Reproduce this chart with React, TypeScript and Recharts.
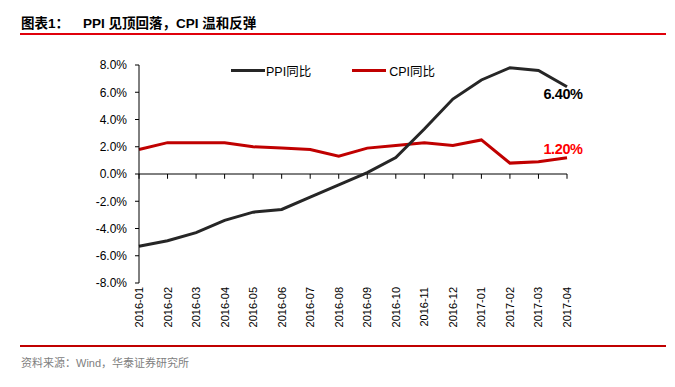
import React from 'react'
import { LineChart, Line, XAxis, YAxis, ReferenceLine, LabelList } from 'recharts'

const months = [
  '2016-01', '2016-02', '2016-03', '2016-04', '2016-05', '2016-06', '2016-07', '2016-08',
  '2016-09', '2016-10', '2016-11', '2016-12', '2017-01', '2017-02', '2017-03', '2017-04',
]
const ppi = [-5.3, -4.9, -4.3, -3.4, -2.8, -2.6, -1.7, -0.8, 0.1, 1.2, 3.3, 5.5, 6.9, 7.8, 7.6, 6.4]
const cpi = [1.8, 2.3, 2.3, 2.3, 2.0, 1.9, 1.8, 1.3, 1.9, 2.1, 2.3, 2.1, 2.5, 0.8, 0.9, 1.2]
const yTicks = [-8, -6, -4, -2, 0, 2, 4, 6, 8]

const data = months.map((m, i) => ({ month: m, ppi: ppi[i], cpi: cpi[i] }))

const FONT = '"Liberation Sans", Arial, sans-serif'
const CJK = '"Liberation Sans", "Noto Sans CJK SC", sans-serif'

const MonthTick = ({ x, y, payload }: any) => (
  <text
    transform={`translate(${x + 4},${y}) rotate(-90)`}
    textAnchor="end"
    fontSize={11}
    fontFamily={FONT}
    fill="#000"
  >
    {payload.value}
  </text>
)

// only the last point gets a value tag
const endLabel = (color: string, dy: number) => (props: any) => {
  const { x, y, index, value } = props
  if (index !== months.length - 1) return null
  return (
    <text
      x={x - 4}
      y={y + dy}
      textAnchor="middle"
      fontSize={14.5}
      fontWeight="bold"
      fontFamily={FONT}
      letterSpacing={-0.4}
      fill={color}
    >
      {value.toFixed(2)}%
    </text>
  )
}

const LegendBox = () => (
  <div style={{ position: 'absolute', left: 231, top: 61, display: 'flex', alignItems: 'center', fontFamily: CJK, fontSize: 12.5 }}>
    <span style={{ display: 'inline-block', width: 34, height: 3, background: '#262626' }} />
    <span style={{ marginLeft: 1, marginRight: 41 }}>PPI同比</span>
    <span style={{ display: 'inline-block', width: 34, height: 3, background: '#c00000' }} />
    <span style={{ marginLeft: 3 }}>CPI同比</span>
  </div>
)

export default function App() {
  return (
    <div style={{ position: 'absolute', left: 0, top: 0, width: 675, height: 387, background: '#fff' }}>
      <div style={{ position: 'absolute', left: 21, top: 12, fontFamily: CJK, fontSize: 13.5, fontWeight: 'bold', whiteSpace: 'nowrap' }}>
        <span>图表1：</span>
        <span style={{ position: 'absolute', left: 62 }}>PPI 见顶回落，CPI 温和反弹</span>
      </div>
      <div style={{ position: 'absolute', left: 20, top: 33, width: 646, height: 2, background: '#e0000b' }} />

      <LineChart
        width={675}
        height={340}
        data={data}
        margin={{ top: 65, right: 108, bottom: 0, left: 0 }}
        style={{ position: 'absolute', left: 0, top: 0 }}
      >
        <XAxis
          dataKey="month"
          height={57}
          axisLine={false}
          tickLine={false}
          tickSize={0}
          tickMargin={4}
          interval={0}
          tick={<MonthTick />}
        />
        <YAxis
          width={139}
          domain={[-8, 8]}
          ticks={yTicks}
          tickFormatter={(v: number) => `${v.toFixed(1)}%`}
          axisLine={{ stroke: '#000', strokeWidth: 1 }}
          tickLine={{ stroke: '#000' }}
          tickSize={4}
          tickMargin={8}
          tick={{ fontSize: 12, fontFamily: FONT, fill: '#000' }}
        />
        <ReferenceLine y={0} stroke="#000" strokeWidth={1} />
        {months.map((m) => (
          <ReferenceLine key={m} segment={[{ x: m, y: 0 }, { x: m, y: -0.35 }]} stroke="#000" strokeWidth={1} />
        ))}
        <Line type="linear" dataKey="cpi" stroke="#c00000" strokeWidth={3} dot={false} isAnimationActive={false}>
          <LabelList dataKey="cpi" content={endLabel('#ff0000', -4)} />
        </Line>
        <Line type="linear" dataKey="ppi" stroke="#262626" strokeWidth={3} dot={false} isAnimationActive={false}>
          <LabelList dataKey="ppi" content={endLabel('#000', 12)} />
        </Line>
      </LineChart>

      <LegendBox />

      <div style={{ position: 'absolute', left: 20, top: 345, width: 646, height: 2, background: '#c00000' }} />
      <div style={{ position: 'absolute', left: 21, top: 354, fontFamily: CJK, fontSize: 11, color: '#808080' }}>
        资料来源：Wind，华泰证券研究所
      </div>
    </div>
  )
}
